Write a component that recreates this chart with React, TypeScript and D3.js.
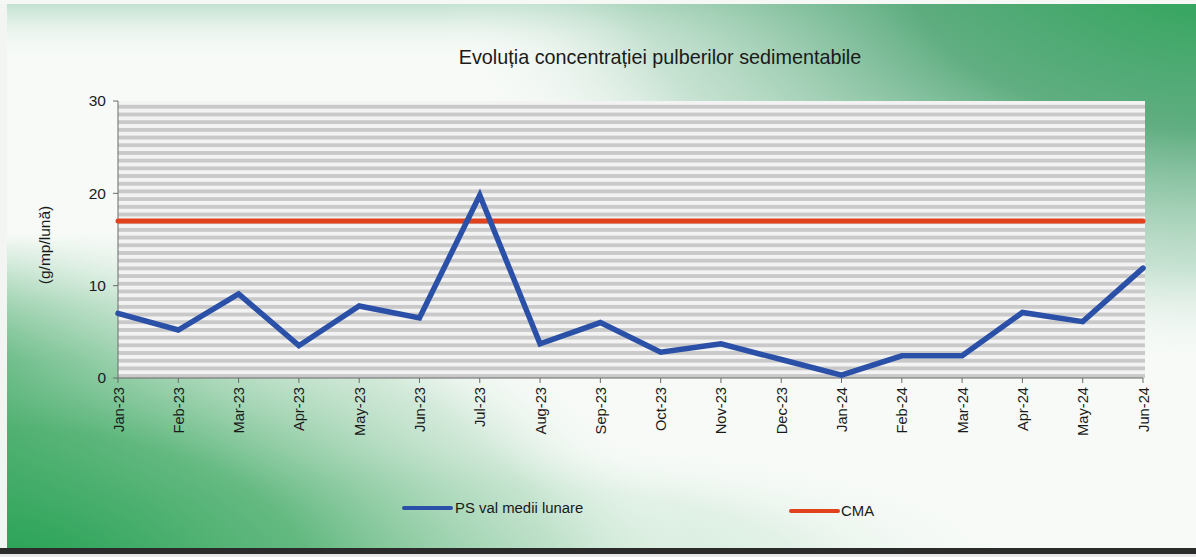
import React from "react";
import * as d3 from "d3";

const months = ["Jan-23","Feb-23","Mar-23","Apr-23","May-23","Jun-23","Jul-23","Aug-23","Sep-23","Oct-23","Nov-23","Dec-23","Jan-24","Feb-24","Mar-24","Apr-24","May-24","Jun-24"];
const psValues = [7.0, 5.2, 9.1, 3.5, 7.8, 6.5, 19.8, 3.7, 6.0, 2.8, 3.7, 2.0, 0.3, 2.4, 2.4, 7.1, 6.1, 11.9];
const cmaValues = months.map(() => 17);
const yTicks = [0, 10, 20, 30];

const W = 1196, H = 557;
const plot = { left: 118, right: 1143, top: 101, bottom: 378 };
const FONT = "'Liberation Sans', Arial, sans-serif";

export default function App() {
  const x = d3.scalePoint<string>().domain(months).range([plot.left, plot.right]).padding(0);
  const y = d3.scaleLinear().domain([0, 30]).range([plot.bottom, plot.top]);
  const line = d3.line<number>().x((_, i) => x(months[i]) as number).y(d => y(d));
  const stripeH = (plot.bottom - plot.top) / 36;

  return (
    <svg width={W} height={H} style={{ position: "absolute", left: 0, top: 0, display: "block" }}>
      <defs>
        <radialGradient id="gBL" gradientUnits="userSpaceOnUse" cx={0} cy={0} r={1}
          gradientTransform="translate(0,590) scale(700,360)">
          <stop offset="0" stopColor="#1f9f4f" stopOpacity={1} />
          <stop offset="0.45" stopColor="#4fb070" stopOpacity={0.85} />
          <stop offset="0.8" stopColor="#a6d5b5" stopOpacity={0.45} />
          <stop offset="1" stopColor="#ffffff" stopOpacity={0} />
        </radialGradient>
        <radialGradient id="gTR" gradientUnits="userSpaceOnUse" cx={0} cy={0} r={1}
          gradientTransform="translate(1230,-30) scale(800,400)">
          <stop offset="0" stopColor="#2ba457" stopOpacity={1} />
          <stop offset="0.4" stopColor="#53a777" stopOpacity={0.92} />
          <stop offset="0.75" stopColor="#98cbae" stopOpacity={0.5} />
          <stop offset="1" stopColor="#ffffff" stopOpacity={0} />
        </radialGradient>
        <radialGradient id="gBottom" gradientUnits="userSpaceOnUse" cx={0} cy={0} r={1}
          gradientTransform="translate(420,560) scale(620,130)">
          <stop offset="0" stopColor="#b5dec3" stopOpacity={0.75} />
          <stop offset="0.6" stopColor="#c8e7d2" stopOpacity={0.45} />
          <stop offset="1" stopColor="#ffffff" stopOpacity={0} />
        </radialGradient>
        <linearGradient id="gTop" x1="0" y1="0" x2="0" y2="1">
          <stop offset="0" stopColor="#7cc09a" stopOpacity={0.5} />
          <stop offset="1" stopColor="#ffffff" stopOpacity={0} />
        </linearGradient>
        <linearGradient id="gLeft" x1="0" y1="0" x2="1" y2="0">
          <stop offset="0" stopColor="#3aa763" stopOpacity={0.9} />
          <stop offset="1" stopColor="#ffffff" stopOpacity={0} />
        </linearGradient>
        <linearGradient id="gLeftMask" x1="0" y1="0" x2="0" y2="1">
          <stop offset="0" stopColor="#fff" stopOpacity={0} />
          <stop offset="0.42" stopColor="#fff" stopOpacity={0} />
          <stop offset="0.65" stopColor="#fff" stopOpacity={1} />
          <stop offset="1" stopColor="#fff" stopOpacity={1} />
        </linearGradient>
        <mask id="mLeft">
          <rect x={0} y={0} width={W} height={H} fill="url(#gLeftMask)" />
        </mask>
        <pattern id="stripes" patternUnits="userSpaceOnUse" x={plot.left} y={plot.top} width={8} height={stripeH}>
          <rect x={0} y={0} width={8} height={stripeH} fill="#f3f3f3" />
          <rect x={0} y={stripeH * 0.5} width={8} height={stripeH * 0.5} fill="#c9c9c9" />
        </pattern>
      </defs>

      {/* background */}
      <rect x={0} y={0} width={W} height={H} fill="#f7faf7" />
      <rect x={0} y={0} width={W} height={60} fill="url(#gTop)" />
      <rect x={0} y={0} width={W} height={H} fill="url(#gBottom)" />
      <rect x={0} y={0} width={300} height={H} fill="url(#gLeft)" mask="url(#mLeft)" />
      <rect x={0} y={0} width={W} height={H} fill="url(#gBL)" />
      <rect x={0} y={0} width={W} height={H} fill="url(#gTR)" />
      <rect x={0} y={0} width={7} height={H} fill="#f2f5f2" />
      <rect x={0} y={0} width={W} height={4} fill="#f6f8f6" />
      <rect x={0} y={548} width={W} height={6} fill="#2b2b2b" />
      <rect x={0} y={554} width={W} height={3} fill="#e8e8e8" />

      {/* title */}
      <text x={660} y={64} textAnchor="middle" fontFamily={FONT} fontSize={19.8} fill="#1a1a1a">
        Evoluția concentrației pulberilor sedimentabile
      </text>

      {/* plot area */}
      <rect x={plot.left} y={plot.top} width={plot.right - plot.left + 2} height={plot.bottom - plot.top} fill="url(#stripes)" />

      {/* y axis */}
      <line x1={plot.left} x2={plot.left} y1={plot.top} y2={plot.bottom} stroke="#6a6a6a" strokeWidth={1} />
      {yTicks.map(t => (
        <g key={t}>
          <line x1={plot.left - 5} x2={plot.left} y1={y(t)} y2={y(t)} stroke="#6a6a6a" />
          <text x={plot.left - 12} y={y(t)} dy="0.35em" textAnchor="end" fontFamily={FONT} fontSize={15.5} fill="#1a1a1a">{t}</text>
        </g>
      ))}
      <text transform={`translate(50,${245}) rotate(-90)`} textAnchor="middle" fontFamily={FONT} fontSize={15.5} fill="#1a1a1a">(g/mp/lună)</text>

      {/* x axis */}
      <line x1={plot.left} x2={plot.right} y1={plot.bottom} y2={plot.bottom} stroke="#6a6a6a" />
      {months.map(m => (
        <g key={m}>
          <line x1={x(m)} x2={x(m)} y1={plot.bottom} y2={plot.bottom + 5} stroke="#6a6a6a" />
          <text transform={`translate(${(x(m) as number) + 5.5},${plot.bottom + 9}) rotate(-90)`} textAnchor="end" fontFamily={FONT} fontSize={14.7} fill="#1a1a1a">{m}</text>
        </g>
      ))}

      {/* series */}
      <path d={line(cmaValues) || ""} fill="none" stroke="#e2421b" strokeWidth={5} strokeLinecap="round" />
      <path d={line(psValues) || ""} fill="none" stroke="#2b50a8" strokeWidth={5.5} strokeLinejoin="miter" strokeLinecap="round" />

      {/* legend */}
      <line x1={404} x2={451} y1={508} y2={508} stroke="#2b50a8" strokeWidth={4} strokeLinecap="round" />
      <text x={455} y={508} dy="0.35em" fontFamily={FONT} fontSize={14.9} fill="#1a1a1a">PS val medii lunare</text>
      <line x1={791} x2={838} y1={511} y2={511} stroke="#e2421b" strokeWidth={4} strokeLinecap="round" />
      <text x={841} y={511} dy="0.35em" fontFamily={FONT} fontSize={14.9} fill="#1a1a1a">CMA</text>
    </svg>
  );
}
